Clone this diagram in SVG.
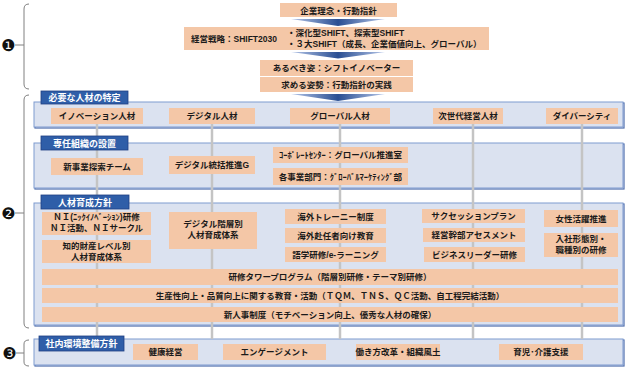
<svg xmlns="http://www.w3.org/2000/svg" width="626" height="367" viewBox="0 0 626 367">
<style>
text{font-family:"Liberation Sans","Noto Sans CJK JP",sans-serif;font-weight:700;font-size:8.5px;fill:#1a1a1a;text-anchor:middle}
.l{text-anchor:start}
.box{fill:#f4c7a7}
.panel{fill:#dbe2f0;stroke:#7f9bd0;stroke-width:1}
.pshadow{fill:none;stroke:#4d6cab;stroke-width:1.2}
.title{fill:#2f5ea8;stroke:#1e3f82;stroke-width:0.8}
.tt{fill:#fff;font-size:9px}
.br{fill:none;stroke:#808080;stroke-width:1}
.vl{stroke:#c4c4c4;stroke-width:2.5}
.num{font-family:"DejaVu Sans",sans-serif;font-weight:400;font-size:16px;fill:#111}
</style>
<defs>
<linearGradient id="ag" x1="0" y1="0" x2="1" y2="0">
<stop offset="0" stop-color="#b5c6e8"/>
<stop offset="0.5" stop-color="#2a4f93"/>
<stop offset="1" stop-color="#b5c6e8"/>
</linearGradient>
</defs>

<g id="brackets">
<path class="br" d="M29,4 Q24,4 24,9 L24,84 Q24,89 29,89 M15,45 L24,45"/>
<path class="br" d="M29,95 Q24,95 24,100 L24,323 Q24,328 29,328 M15,213 L24,213"/>
<path class="br" d="M29,340 Q24,340 24,344 L24,362 Q24,366 29,366 M16,353 L24,353"/>
<text class="num" x="8.5" y="50.5">❶</text>
<text class="num" x="8.5" y="218.5">❷</text>
<text class="num" x="9.5" y="358.5">❸</text>
</g>

<g id="top">
<g id="n-rinen"><rect class="box" x="280" y="3" width="117" height="14"/><text x="338.5" y="13.5">企業理念・行動指針</text></g>
<path d="M291,19 L385,19 L338,26 Z" fill="url(#ag)"/>
<g id="n-senryaku"><rect class="box" x="184" y="27" width="305" height="23"/>
<text class="l" x="191" y="41.5">経営戦略：SHIFT2030</text>
<text class="l" x="287" y="36">・深化型SHIFT、探索型SHIFT</text>
<text class="l" x="287" y="47">・３大SHIFT（成長、企業価値向上、グローバル）</text></g>
<path d="M291,52 L385,52 L338,58.5 Z" fill="url(#ag)"/>
<g id="n-arubeki"><rect class="box" x="260" y="60" width="153" height="16"/><text x="336.5" y="71">あるべき姿：シフトイノベーター</text></g>
<g id="n-shisei"><rect class="box" x="260" y="77" width="153" height="15"/><text x="336.5" y="87.5">求める姿勢：行動指針の実践</text></g>
<path d="M291,94 L385,94 L338,101 Z" fill="url(#ag)"/>
</g>

<g id="panels">
<rect class="pshadow" x="35" y="103" width="589" height="25"/>
<rect class="panel" x="34" y="102" width="589" height="25"/>
<rect class="pshadow" x="35" y="144" width="589" height="45"/>
<rect class="panel" x="34" y="143" width="589" height="45"/>
<rect class="pshadow" x="35" y="204" width="589" height="122"/>
<rect class="panel" x="34" y="203" width="589" height="122"/>
<rect class="pshadow" x="35" y="340" width="589" height="26"/>
<rect class="panel" x="34" y="339" width="589" height="26"/>
</g>

<g id="connectors">
<line class="vl" x1="97" y1="116" x2="97" y2="339"/>
<line class="vl" x1="212" y1="116" x2="212" y2="339"/>
<line class="vl" x1="340" y1="116" x2="340" y2="339"/>
<line class="vl" x1="473" y1="116" x2="473" y2="339"/>
<line class="vl" x1="582" y1="116" x2="582" y2="339"/>
</g>

<g id="sec1">
<g id="t1"><rect class="title" x="41" y="91" width="87" height="13"/><text class="tt" x="84.5" y="101">必要な人材の特定</text></g>
<g id="n-innov"><rect class="box" x="51" y="108" width="92" height="16"/><text x="97" y="119">イノベーション人材</text></g>
<g id="n-digital"><rect class="box" x="169" y="108" width="86" height="16"/><text x="212" y="119">デジタル人材</text></g>
<g id="n-global"><rect class="box" x="290" y="108" width="100" height="16"/><text x="340" y="119">グローバル人材</text></g>
<g id="n-jisedai"><rect class="box" x="433" y="108" width="70" height="16"/><text x="468" y="119">次世代経営人材</text></g>
<g id="n-diversity"><rect class="box" x="546" y="108" width="72" height="16"/><text x="582" y="119">ダイバーシティ</text></g>
</g>

<g id="sec2">
<g id="t2"><rect class="title" x="41" y="136" width="87" height="14"/><text class="tt" x="84.5" y="146.5">専任組織の設置</text></g>
<g id="n-shinjigyo"><rect class="box" x="51" y="158" width="92" height="17"/><text x="97" y="169.5">新事業探索チーム</text></g>
<g id="n-digitalg"><rect class="box" x="169" y="156" width="86" height="18"/><text x="212" y="168">デジタル統括推進G</text></g>
<g id="n-corp"><rect class="box" x="273" y="147" width="135" height="16"/><text x="340.5" y="158">ｺｰﾎﾟﾚｰﾄｾﾝﾀｰ：グローバル推進室</text></g>
<g id="n-jigyobu"><rect class="box" x="273" y="168" width="135" height="17"/><text x="340.5" y="179.5">各事業部門：ｸﾞﾛｰﾊﾞﾙﾏｰｹﾃｨﾝｸﾞ部</text></g>
</g>

<g id="sec3">
<g id="t3"><rect class="title" x="41" y="195" width="88" height="14"/><text class="tt" x="85" y="205.5">人材育成方針</text></g>
<g id="n-ni"><rect class="box" x="42" y="212" width="109" height="23"/><text x="96.5" y="220">ＮＩ(ﾆｯｸｲﾉﾍﾞｰｼｮﾝ)研修</text><text x="96.5" y="231">ＮＩ活動、ＮＩサークル</text></g>
<g id="n-chiteki"><rect class="box" x="42" y="240" width="109" height="23"/><text x="96.5" y="249">知的財産レベル別</text><text x="96.5" y="259.5">人材育成体系</text></g>
<g id="n-dkaiso"><rect class="box" x="169" y="212" width="88" height="37"/><text x="213" y="227">デジタル階層別</text><text x="213" y="238">人材育成体系</text></g>
<g id="n-trainee"><rect class="box" x="285" y="209" width="101" height="15"/><text x="335.5" y="219.5">海外トレーニー制度</text></g>
<g id="n-funin"><rect class="box" x="285" y="228" width="101" height="15"/><text x="335.5" y="238.5">海外赴任者向け教育</text></g>
<g id="n-gogaku"><rect class="box" x="285" y="247" width="101" height="15"/><text x="335.5" y="257.5">語学研修/e-ラーニング</text></g>
<g id="n-succession"><rect class="box" x="422" y="209" width="103" height="14"/><text x="473.5" y="219">サクセッションプラン</text></g>
<g id="n-assess"><rect class="box" x="423" y="228" width="102" height="14"/><text x="474" y="238">経営幹部アセスメント</text></g>
<g id="n-leader"><rect class="box" x="424" y="247" width="101" height="15"/><text x="474.5" y="257.5">ビジネスリーダー研修</text></g>
<g id="n-josei"><rect class="box" x="544" y="210" width="74" height="17"/><text x="581" y="221.5">女性活躍推進</text></g>
<g id="n-nyusha"><rect class="box" x="544" y="233" width="74" height="24"/><text x="581" y="241.5">入社形態別・</text><text x="581" y="252.5">職種別の研修</text></g>
<g id="n-tower"><rect class="box" x="42" y="269" width="576" height="16"/><text x="330" y="280">研修タワープログラム（階層別研修・テーマ別研修）</text></g>
<g id="n-seisansei"><rect class="box" x="42" y="288" width="576" height="15"/><text x="330" y="298.5">生産性向上・品質向上に関する教育・活動（ＴＱＭ、ＴＮＳ、ＱＣ活動、自工程完結活動）</text></g>
<g id="n-jinji"><rect class="box" x="42" y="307" width="576" height="15"/><text x="330" y="317.5">新人事制度（モチベーション向上、優秀な人材の確保）</text></g>
</g>

<g id="sec4">
<g id="t4"><rect class="title" x="39" y="336" width="85" height="15"/><text class="tt" x="81.5" y="347">社内環境整備方針</text></g>
<g id="n-kenko"><rect class="box" x="133" y="344" width="65" height="16"/><text x="165.5" y="355">健康経営</text></g>
<g id="n-engage"><rect class="box" x="223" y="344" width="103" height="16"/><text x="274.5" y="355">エンゲージメント</text></g>
<g id="n-hatarakikata"><rect class="box" x="356" y="344" width="84" height="16"/><text x="398" y="355">働き方改革・組織風土</text></g>
<g id="n-ikuji"><rect class="box" x="499" y="344" width="84" height="16"/><text x="541" y="355">育児･介護支援</text></g>
</g>
</svg>
